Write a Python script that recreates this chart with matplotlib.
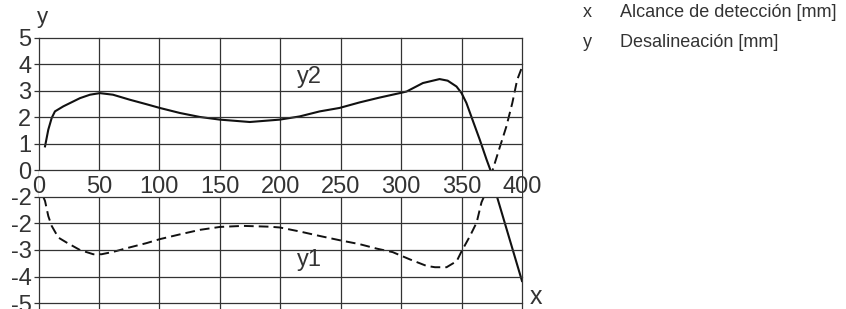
import matplotlib.pyplot as plt

plt.rcParams['font.family'] = ['Liberation Sans', 'DejaVu Sans']

# y2 (solid)
y2_x = [5.4, 8.1, 10.9, 13.6, 20.5, 34.3, 42.6, 50.8, 61.6, 75.6, 89.4, 100.4,
        117, 133.5, 150, 174.8, 199.6, 216, 232.6, 249, 265.7, 282, 298.8,
        304.5, 318, 331.8, 338.5, 345.8, 350, 354, 359, 365, 370.7, 374, 379, 400]
y2_y = [0.91, 1.54, 1.98, 2.23, 2.42, 2.73, 2.86, 2.92, 2.86, 2.67, 2.5, 2.36,
        2.17, 2.02, 1.92, 1.83, 1.92, 2.04, 2.23, 2.36, 2.57, 2.75, 2.92,
        2.98, 3.3, 3.45, 3.39, 3.17, 2.92, 2.55, 1.92, 1.17, 0.41, 0.0, -0.94, -4.17]

# y1 (dashed)
y1_x = [4, 5.4, 8.1, 10.9, 16.4, 23.3, 34.3, 45.3, 52.2, 61.8, 75.6, 89.4, 100.4,
        117, 133.5, 150, 169, 191, 199.6, 216, 232.6, 249, 265.7, 280, 293, 307,
        321, 328, 337.6, 346, 350, 357, 362.5, 366.5, 369, 375.6, 381, 387, 392,
        396, 400]
y1_y = [-1.0, -1.15, -1.72, -2.09, -2.53, -2.72, -3.0, -3.16, -3.16, -3.07, -2.9,
        -2.74, -2.59, -2.41, -2.24, -2.13, -2.09, -2.12, -2.15, -2.3, -2.47, -2.63,
        -2.78, -2.95, -3.08, -3.35, -3.6, -3.65, -3.65, -3.42, -3.05, -2.47, -1.96,
        -1.2, -0.94, 0.0, 0.79, 1.65, 2.55, 3.42, 3.9]

x_ticks = [0, 50, 100, 150, 200, 250, 300, 350, 400]
y_ticks = [-5, -4, -3, -2, -1, 0, 1, 2, 3, 4, 5]
y_tick_labels = ['-5', '-4', '-3', '-2', '-2', '0', '1', '2', '3', '4', '5']

W, H = 846, 309
fig = plt.figure(figsize=(W / 100, H / 100), dpi=100)
ax = fig.add_axes([38.5 / W, 0.7 / H, 483.5 / W, 270.3 / H])
ax.set_xlim(0, 400)
ax.set_ylim(-5.2, 5)
for s in ax.spines.values():
    s.set_visible(False)

grid_c = '#333333'
for xv in x_ticks:
    ax.axvline(xv, color=grid_c, lw=0.9, zorder=1, clip_on=False)
for yv in y_ticks:
    ax.axhline(yv, color=grid_c, lw=0.9, zorder=4, clip_on=False)

ax.plot(y2_x, y2_y, color='#111111', lw=1.5, zorder=2)
ax.plot(y1_x, y1_y, color='#111111', lw=1.4, ls=(0, (5, 2.6)), zorder=2)

# blank band that holds the x tick labels
ax.axhspan(-1, 0, color='white', zorder=3, lw=0)
for xv in x_ticks:
    ax.text(xv, -0.84, str(xv), ha='center', va='baseline', fontsize=17,
            color='#333333', zorder=5)

ax.set_xticks([])
ax.set_yticks(y_ticks)
ax.set_yticklabels(y_tick_labels, fontsize=17, color='#333333')
ax.tick_params(axis='y', length=3.6, width=0.9, color=grid_c, pad=1.5)

ax.text(224, 3.3, 'y2', ha='center', va='baseline', fontsize=17, color='#333333', zorder=5)
ax.text(224, -3.61, 'y1', ha='center', va='baseline', fontsize=17, color='#333333', zorder=5)

fig.text(37 / W, 1 - 23 / H, 'y', fontsize=16, va='baseline', color='#333333')
fig.text(530 / W, 1 - 304 / H, 'x', fontsize=18, va='baseline', color='#333333')

fig.text(583 / W, 1 - 17 / H, 'x', fontsize=13, va='baseline', color='#333333')
fig.text(620 / W, 1 - 17 / H, 'Alcance de detección [mm]', fontsize=13, va='baseline', color='#333333')
fig.text(583 / W, 1 - 47 / H, 'y', fontsize=13, va='baseline', color='#333333')
fig.text(620 / W, 1 - 47 / H, 'Desalineación [mm]', fontsize=13, va='baseline', color='#333333')

fig.savefig('out.png', dpi=100)
